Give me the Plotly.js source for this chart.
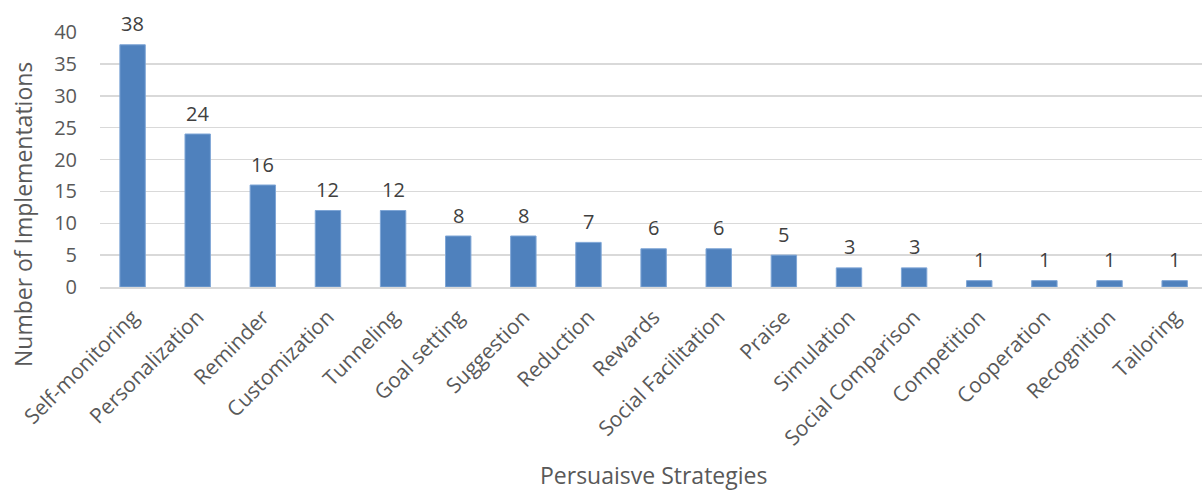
<!DOCTYPE html>
<html>
<head>
<meta charset="utf-8">
<script src="https://cdn.plot.ly/plotly-3.0.1.min.js"></script>
<style>html,body{margin:0;padding:0;background:#fff;}#chart{width:1202px;height:490px;}</style>
</head>
<body>
<div id="chart"></div>
<script>
const categories = ["Self-monitoring","Personalization","Reminder","Customization","Tunneling","Goal setting","Suggestion","Reduction","Rewards","Social Facilitation","Praise","Simulation","Social Comparison","Competition","Cooperation","Recognition","Tailoring"];
const implementations = [38,24,16,12,12,8,8,7,6,6,5,3,3,1,1,1,1];
const yTicks = [0,5,10,15,20,25,30,35,40];
const xTitle = "Persuaisve Strategies";
const yTitle = "Number of Implementations";

const fontFam = "'Open Sans', 'Noto Sans', sans-serif";
const grey = "#595959";

const labelAnnotations = categories.map((c, i) => ({
  x: c, y: implementations[i], xref: "x", yref: "y",
  text: String(implementations[i]), showarrow: false,
  yanchor: "middle", yshift: 21,
  font: {family: fontFam, size: 20, color: "#404040"}
}));

const titleAnnotations = [
  {text: xTitle, xref: "paper", yref: "paper", x: 0.5027, y: -0.737,
   xanchor: "center", yanchor: "middle", showarrow: false,
   font: {family: fontFam, size: 23, color: grey}},
  {text: yTitle, xref: "paper", yref: "paper", x: -0.0699, y: 0.286,
   xanchor: "center", yanchor: "middle", textangle: -90, showarrow: false,
   font: {family: fontFam, size: 23, color: grey}}
];

Plotly.newPlot("chart", [{
  type: "bar",
  x: categories,
  y: implementations,
  marker: {color: "#4f81bd", line: {color: "#7fa6d6", width: 1}},
  hoverinfo: "x+y"
}], {
  width: 1202, height: 490,
  margin: {l: 100, r: 0, t: 32, b: 203, pad: 0},
  paper_bgcolor: "#fff", plot_bgcolor: "#fff",
  bargap: 0.61,
  showlegend: false,
  font: {family: fontFam, color: grey},
  annotations: labelAnnotations.concat(titleAnnotations),
  xaxis: {
    type: "category",
    range: [-0.5, 16.42],
    tickangle: -45,
    tickfont: {family: fontFam, size: 21, color: grey},
    showgrid: false,
    showline: true, linecolor: "#d9d9d9", linewidth: 1.5,
    ticks: "", ticklabelstandoff: 8
  },
  yaxis: {
    range: [0, 40],
    tickvals: yTicks,
    tickfont: {family: fontFam, size: 20, color: grey},
    showgrid: true, gridcolor: "#d9d9d9", gridwidth: 1.5,
    zeroline: false, showline: false,
    ticks: "", ticklabelstandoff: 22
  }
}, {displayModeBar: false, staticPlot: true});
</script>
</body>
</html>
